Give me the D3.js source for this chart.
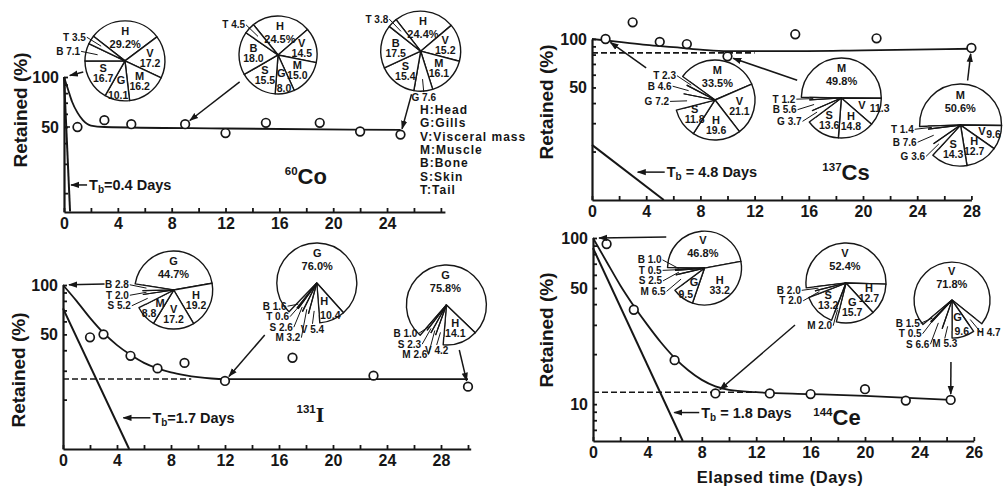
<!DOCTYPE html>
<html>
<head>
<meta charset="utf-8">
<script src="https://cdn.jsdelivr.net/npm/d3@7"></script>
<style>
  body { margin: 0; background: #fff; }
  svg { display: block; }
  text { font-family: "Liberation Sans", Arial, sans-serif; font-weight: bold; fill: #161616; }
</style>
</head>
<body>
<svg id="chart"></svg>
<script>
const width = 1003;
const height = 489;
const ink = '#161616';

// ---- 60Co ----
const coDays = [1, 3, 5, 9, 12, 15, 19, 22, 25];
const coRetained = [50, 55, 52, 52, 46, 53, 53, 47, 45];
const coCurve = [[0, 100], [0.3, 84], [0.6, 71], [1, 61], [1.4, 55], [2, 51], [3, 50], [12, 49], [25, 48]];
const coDashed = [[0, 50], [1, 50]];
const coTb = [[0, 100], [0.45, 15.5]];
const coPieA = [['H', 29.2], ['V', 17.2], ['M', 16.2], ['G', 10.1], ['S', 16.7], ['B', 7.1], ['T', 3.5]];
const coPieB = [['H', 24.5], ['V', 14.5], ['M', 15.0], ['G', 8.0], ['S', 15.5], ['B', 18.0], ['T', 4.5]];
const coPieC = [['H', 24.4], ['V', 15.2], ['M', 16.1], ['G', 7.6], ['S', 15.4], ['B', 17.5], ['T', 3.8]];

// ---- 137Cs ----
const csDays = [1, 3, 5, 7, 10, 15, 21, 28];
const csRetained = [100, 127, 96, 93, 78, 107, 101, 88];
const csCurve = [[0, 100], [2, 96], [4, 92], [6, 89], [8, 86], [10, 84], [14, 84], [20, 85], [28, 87]];
const csDashed = [[0, 82], [12, 82]];
const csTb = [[0, 22], [5.3, 10]];
const csPieA = [['M', 33.5], ['V', 21.1], ['H', 19.6], ['S', 11.8], ['G', 7.2], ['B', 4.6], ['T', 2.3]];
const csPieB = [['M', 49.8], ['V', 11.3], ['H', 14.8], ['S', 13.6], ['G', 3.7], ['B', 5.6], ['T', 1.2]];
const csPieC = [['M', 50.6], ['V', 9.6], ['H', 12.7], ['S', 14.3], ['G', 3.6], ['B', 7.6], ['T', 1.4]];

// ---- 131I ----
const iDays = [2, 3, 5, 7, 9, 12, 17, 23, 30];
const iRetained = [48, 50, 37, 31, 33.5, 26, 36, 28, 24];
const iCurve = [[0, 100], [1, 80], [2, 63], [3, 51], [4, 43], [5, 37.5], [6, 33.5], [7, 31], [8, 29.3], [9, 28.2], [10, 27.4], [11, 26.9], [12, 26.7], [30, 26.7]];
const iDashed = [[0, 26.7], [9.5, 26.7]];
const iTb = [[0, 72], [4.9, 10]];
const iPieA = [['G', 44.7], ['H', 19.2], ['V', 17.2], ['M', 8.8], ['S', 5.2], ['T', 2.0], ['B', 2.8]];
const iPieB = [['G', 76.0], ['H', 10.4], ['V', 5.4], ['M', 3.2], ['S', 2.6], ['T', 0.6], ['B', 1.6]];
const iPieC = [['G', 75.8], ['H', 14.1], ['V', 4.2], ['M', 2.6], ['S', 2.3], ['B', 1.0]];

// ---- 144Ce ----
const ceDays = [1, 3, 6, 9, 13, 16, 20, 23, 26.3];
const ceRetained = [92, 37, 18.4, 11.6, 11.6, 11.5, 12.3, 10.5, 10.6];
const ceCurve = [[0, 100], [1, 72], [2, 52], [3, 39], [4, 30], [5, 23.5], [6, 19], [7, 16], [8, 14], [9, 12.8], [10, 12.2], [12, 11.8], [16, 11.5], [20, 11.2], [26.3, 10.6]];
const ceDashed = [[0, 11.8], [12, 11.8]];
const ceTb = [[0, 87], [6.6, 6]];
const cePieA = [['V', 46.8], ['H', 33.2], ['G', 9.5], ['M', 6.5], ['S', 2.5], ['T', 0.5], ['B', 1.0]];
const cePieB = [['V', 52.4], ['H', 12.7], ['G', 15.7], ['M', 2.0], ['S', 13.2], ['T', 2.0], ['B', 2.0]];
const cePieC = [['V', 71.8], ['H', 4.7], ['G', 9.6], ['M', 5.3], ['S', 6.6], ['T', 0.5], ['B', 1.5]];

// tick labels
const xLabelDays24 = [0, 4, 8, 12, 16, 20, 24];
const xLabels24 = ['0', '4', '8', '12', '16', '20', '24'];
const xLabelDays28 = [0, 4, 8, 12, 16, 20, 24, 28];
const xLabels28 = ['0', '4', '8', '12', '16', '20', '24', '28'];
const ceXLabels = ['0', '4', '8', '12', '16', '20', '24', '26'];
const legendItems = ['H:Head', 'G:Gills', 'V:Visceral mass', 'M:Muscle', 'B:Bone', 'S:Skin', 'T:Tail'];

const panels = [
  { iso: ['60', 'Co'], isoAt: [16.4, 22.7], days: coDays, values: coRetained, curve: coCurve, dashed: coDashed,
    tb: coTb, tbText: '=0.4 Days', tbAt: [0.45, 22.4], tbLen: 17, open: false,
    xLabelDays: xLabelDays24, xLabels: xLabels24, yLabels: [50, 100],
    left: 64, dayPx: 13.46, xMax: 28.3, yMin: 15.4, top: 77, bottom: 212, titleX: 20, titleY: 110,
    pies: [
      { slices: coPieA, day: 4.53, pct: 125, r: 40, start: -52, arrow: { ang: -105, f: 1.08, to: [0, 100] } },
      { slices: coPieB, day: 15.9, pct: 135.7, r: 39, start: -39, arrow: { ang: -125, f: 1.2, to: [9, 52] } },
      { slices: coPieC, day: 26.5, pct: 143, r: 40, start: -38, arrow: { ang: -168, f: 1.1, to: [25, 45] } }
    ] },
  { iso: ['137', 'Cs'], isoAt: [17, 13.3], days: csDays, values: csRetained, curve: csCurve, dashed: csDashed,
    tb: csTb, tbText: ' = 4.8 Days', tbAt: [3.3, 14.9], tbLen: 28, open: true,
    xLabelDays: xLabelDays28, xLabels: xLabels28, yLabels: [10, 50, 100],
    left: 592, dayPx: 13.55, xMax: 28, yMin: 10, top: 39, bottom: 200, titleX: 546, titleY: 102,
    pies: [
      { slices: csPieA, day: 9.08, pct: 41.8, r: 40, start: -54, arrow: { ang: -65, f: 1.9, to: [1, 100] } },
      { slices: csPieB, day: 18.4, pct: 43, r: 40, start: -89, arrow: { ang: -68, f: 1.19, to: [10, 78] } },
      { slices: csPieC, day: 27.2, pct: 29.2, r: 41, start: -92, arrow: { ang: 9, f: 1.1, to: [28, 88] } }
    ] },
  { iso: ['131', 'I'], isoAt: [17.3, 14.6], days: iDays, values: iRetained, curve: iCurve, dashed: iDashed,
    tb: iTb, tbText: '=1.7 Days', tbAt: [4.4, 15.5], tbLen: 28, open: true,
    xLabelDays: xLabelDays28, xLabels: xLabels28, yLabels: [10, 50, 100],
    left: 63, dayPx: 13.5, xMax: 30.2, yMin: 10, top: 285, bottom: 449, titleX: 18, titleY: 370,
    pies: [
      { slices: iPieA, day: 8.2, pct: 93.2, r: 39, start: -81, arrow: { ang: -85, f: 1.78, to: [0, 100] } },
      { slices: iPieB, day: 18.8, pct: 102.8, r: 40, start: -136, arrow: { ang: -135, f: 1.84, to: [12, 26] } },
      { slices: iPieC, day: 28.4, pct: 75.5, r: 40, start: -139, arrow: { ang: 164, f: 1.17, to: [30, 24] } }
    ] },
  { iso: ['144', 'Ce'], isoAt: [16.2, 7.5], days: ceDays, values: ceRetained, curve: ceCurve, dashed: ceDashed,
    tb: ceTb, tbText: ' = 1.8 Days', tbAt: [5.9, 8.9], tbLen: 26, open: true,
    xLabelDays: xLabelDays28, xLabels: ceXLabels, yLabels: [10, 50, 100],
    left: 593, dayPx: 13.6, xMax: 28, yMin: 6, top: 238, bottom: 441, titleX: 546, titleY: 330,
    pies: [
      { slices: cePieA, day: 8.2, pct: 65.9, r: 37, start: -89, arrow: { ang: -51, f: 1.33, to: [0, 100] } },
      { slices: cePieB, day: 18.6, pct: 53.6, r: 40, start: -97, arrow: { ang: -129.5, f: 1.65, to: [9, 11.6] } },
      { slices: cePieC, day: 26.4, pct: 42.3, r: 38, start: -130, arrow: { ang: 181, f: 1.63, to: [26.3, 10.6] } }
    ] }
];

const svg = d3.select('#chart').attr('width', width).attr('height', height);
svg.append('rect').attr('width', width).attr('height', height).attr('fill', '#fff');

svg.append('defs').append('marker')
    .attr('id', 'arr')
    .attr('viewBox', '0 0 10 10')
    .attr('refX', 9).attr('refY', 5)
    .attr('markerWidth', 6).attr('markerHeight', 6)
    .attr('orient', 'auto')
  .append('path')
    .attr('d', 'M0,1.5L10,5L0,8.5Z')
    .attr('fill', ink);

const pt = (a, rr) => [Math.sin(a) * rr, -Math.cos(a) * rr];

// keep a text inside the picture
function clampRight(sel, cx) {
  const box = sel.node().getBBox();
  const over = cx + box.x + box.width - (width - 2);
  if (over > 0) sel.attr('x', +sel.attr('x') - over);
}

function drawPie(g, spec, open, x, y) {
  const cx = x(spec.day), cy = y(spec.pct), r = spec.r;
  const a0 = spec.start * Math.PI / 180;
  const arcs = d3.pie().sort(null).value(d => d[1])
      .startAngle(a0).endAngle(a0 + 2 * Math.PI)(spec.slices);
  const isOpen = d => open && d.data[1] < 8;
  const full = d3.arc().innerRadius(0).outerRadius(r);
  const short = d3.arc().innerRadius(0).outerRadius(r * 0.8);
  const pg = g.append('g').attr('transform', `translate(${cx},${cy})`);

  pg.selectAll('path.slice').data(arcs).join('path')
      .attr('class', 'slice')
      .attr('d', d => isOpen(d) ? short(d) : full(d))
      .attr('fill', '#fff')
      .attr('stroke', d => isOpen(d) ? 'none' : ink)
      .attr('stroke-width', 1.4)
      .attr('stroke-linejoin', 'round');

  // open (small) slices: only radial lines
  arcs.filter(isOpen).forEach(d => {
    [d.startAngle, d.endAngle].forEach(a => {
      const [px, py] = pt(a, r * 0.8);
      pg.append('line').attr('x1', 0).attr('y1', 0).attr('x2', px).attr('y2', py)
        .attr('stroke', ink).attr('stroke-width', 1.2);
    });
  });

  // inside labels
  arcs.filter(d => d.data[1] >= 8).forEach(d => {
    const mid = (d.startAngle + d.endAngle) / 2;
    const span = (d.endAngle - d.startAngle) * 180 / Math.PI;
    const top = d.index === 0;
    if (!top && span < 45 && Math.abs(Math.cos(mid)) < 0.5) {
      // narrow slice lying sideways: letter inside, value across the rim
      const right = Math.sin(mid) > 0;
      const [ax, ay] = pt(mid, r * 0.55);
      const [bx, by] = pt(mid, r * 0.76);
      pg.append('text').attr('x', ax).attr('y', ay + 3.5)
        .attr('text-anchor', 'middle').attr('font-size', 11).text(d.data[0]);
      const v = pg.append('text').attr('x', bx).attr('y', by + 3.5)
        .attr('text-anchor', right ? 'start' : 'end').attr('font-size', 10.5)
        .text(d.data[1].toFixed(1));
      clampRight(v, cx);
      return;
    }
    if (!top && span < 40) {
      // narrow slice pointing up or down: letter inside, value near the rim
      const [ax, ay] = pt(mid, r * 0.48);
      const [bx, by] = pt(mid, r * 0.86);
      pg.append('text').attr('x', ax).attr('y', ay + 4)
        .attr('text-anchor', 'middle').attr('font-size', 11).text(d.data[0]);
      pg.append('text').attr('x', bx).attr('y', by + 4)
        .attr('text-anchor', 'middle').attr('font-size', 10.5).text(d.data[1].toFixed(1));
      return;
    }
    const [lx, ly] = pt(mid, r * (top ? 0.55 : 0.63));
    pg.append('text').attr('x', lx).attr('y', ly + (top ? -4 : -1.5))
      .attr('text-anchor', 'middle').attr('font-size', 11).text(d.data[0]);
    pg.append('text').attr('x', lx).attr('y', ly + (top ? 9 : 8.5))
      .attr('text-anchor', 'middle').attr('font-size', top ? 11 : 10.5)
      .text(d.data[1].toFixed(1) + (top ? '%' : ''));
  });

  // outside labels for small slices
  const outs = arcs.filter(d => d.data[1] < 8).map(d => {
    const mid = (d.startAngle + d.endAngle) / 2;
    const s = Math.sin(mid);
    const [lx, ly] = pt(mid, r + 6);
    return { d, mid, lx, ly: ly + 4, anchor: s < -0.25 ? 'end' : s > 0.25 ? 'start' : 'middle' };
  });
  ['end', 'start', 'middle'].forEach(an => {
    const grp = outs.filter(o => o.anchor === an).sort((a, b) => a.ly - b.ly);
    if (grp.length < 2) return;
    const before = d3.mean(grp, o => o.ly);
    for (let i = 1; i < grp.length; i++) {
      if (grp[i].ly - grp[i - 1].ly < 10.5) grp[i].ly = grp[i - 1].ly + 10.5;
    }
    const shift = d3.mean(grp, o => o.ly) - before;
    grp.forEach(o => { o.ly -= shift; });
  });
  outs.forEach(o => {
    const [sx, sy] = pt(o.mid, r * 0.7);
    const ex = o.anchor === 'end' ? o.lx + 1 : o.anchor === 'start' ? o.lx - 1 : o.lx;
    const ey = o.anchor === 'middle' ? o.ly - 9 : o.ly - 3.5;
    pg.append('line').attr('x1', sx).attr('y1', sy).attr('x2', ex).attr('y2', ey)
      .attr('stroke', ink).attr('stroke-width', 1);
    const t = pg.append('text').attr('x', o.lx).attr('y', o.ly)
      .attr('text-anchor', o.anchor).attr('font-size', 10)
      .text(`${o.d.data[0]} ${o.d.data[1].toFixed(1)}`);
    clampRight(t, cx);
  });

  // arrow from the pie towards its data point
  const a = spec.arrow;
  const ang = a.ang * Math.PI / 180;
  const [ox, oy] = pt(ang, a.f * r);
  const sx = cx + ox, sy = cy + oy;
  let tx = x(a.to[0]), ty = y(a.to[1]);
  const len = Math.hypot(tx - sx, ty - sy);
  tx -= (tx - sx) / len * 6;
  ty -= (ty - sy) / len * 6;
  g.append('line').attr('x1', sx).attr('y1', sy).attr('x2', tx).attr('y2', ty)
    .attr('stroke', ink).attr('stroke-width', 1.5).attr('marker-end', 'url(#arr)');
}

function drawPanel(p) {
  const x = d3.scaleLinear().domain([0, p.xMax]).range([p.left, p.left + p.xMax * p.dayPx]);
  const y = d3.scaleLog().domain([p.yMin, 100]).range([p.bottom, p.top]);
  const g = svg.append('g');

  // x axis
  const xAxis = d3.axisBottom(x)
      .tickValues(d3.range(0, p.xMax + 0.01, 2))
      .tickSize(-4).tickSizeOuter(0).tickPadding(6)
      .tickFormat(d => {
        const i = p.xLabelDays.indexOf(d);
        return i < 0 ? '' : p.xLabels[i];
      });
  const gx = g.append('g').attr('transform', `translate(0,${p.bottom})`).call(xAxis)
      .attr('font-family', null).attr('font-size', null);
  gx.select('.domain').attr('stroke', ink).attr('stroke-width', 2.2);
  gx.selectAll('line').attr('stroke', ink).attr('stroke-width', 1.8);
  gx.selectAll('text').attr('font-size', 16).attr('fill', ink);

  // y axis (log)
  const yTicks = [7, 8, 9, 10, 20, 30, 40, 50, 60, 70, 80, 90, 100].filter(v => v >= p.yMin * 1.05);
  const yAxis = d3.axisLeft(y)
      .tickValues(yTicks)
      .tickSize(-4).tickSizeOuter(0).tickPadding(5)
      .tickFormat(d => p.yLabels.includes(d) ? d : '');
  const gy = g.append('g').attr('transform', `translate(${p.left},0)`).call(yAxis)
      .attr('font-family', null).attr('font-size', null);
  gy.select('.domain').attr('stroke', ink).attr('stroke-width', 2.2);
  gy.selectAll('line').attr('stroke', ink).attr('stroke-width', 1.8);
  gy.selectAll('text').attr('font-size', 16).attr('fill', ink);

  g.append('text')
      .attr('transform', `translate(${p.titleX},${p.titleY}) rotate(-90)`)
      .attr('text-anchor', 'middle').attr('dominant-baseline', 'central')
      .attr('font-size', 19)
      .text('Retained (%)');

  const line = d3.line().x(d => x(d[0])).y(d => y(d[1]));

  // lines
  g.append('path').attr('d', line.curve(d3.curveMonotoneX)(p.curve))
    .attr('fill', 'none').attr('stroke', ink).attr('stroke-width', 1.8);
  g.append('path').attr('d', line.curve(d3.curveLinear)(p.dashed))
    .attr('fill', 'none').attr('stroke', ink).attr('stroke-width', 1.6).attr('stroke-dasharray', '6,3');
  g.append('path').attr('d', line.curve(d3.curveLinear)(p.tb))
    .attr('fill', 'none').attr('stroke', ink).attr('stroke-width', 2);

  // points
  g.selectAll('circle.pt').data(p.days.map((d, i) => [d, p.values[i]])).join('circle')
      .attr('class', 'pt')
      .attr('cx', d => x(d[0])).attr('cy', d => y(d[1])).attr('r', 4.3)
      .attr('fill', '#fff').attr('stroke', ink).attr('stroke-width', 1.7);

  // Tb label with arrow
  const tx = x(p.tbAt[0]), ty = y(p.tbAt[1]);
  g.append('line').attr('x1', tx + p.tbLen).attr('y1', ty).attr('x2', tx + 1).attr('y2', ty)
    .attr('stroke', ink).attr('stroke-width', 1.5).attr('marker-end', 'url(#arr)');
  const tt = g.append('text').attr('x', tx + p.tbLen + 2).attr('y', ty + 5).attr('font-size', 14.5);
  tt.append('tspan').text('T');
  tt.append('tspan').attr('font-size', 10).attr('dy', 3).text('b');
  tt.append('tspan').attr('dy', -3).text(p.tbText);

  // isotope label
  const it = g.append('text').attr('x', x(p.isoAt[0])).attr('y', y(p.isoAt[1]));
  it.append('tspan').attr('font-size', 11.5).attr('dy', -9).text(p.iso[0]);
  it.append('tspan').attr('font-size', 22).attr('dy', 9)
    .attr('font-family', p.iso[1] === 'I' ? '"Liberation Serif", serif' : null)
    .text(p.iso[1]);

  p.pies.forEach(spec => drawPie(g, spec, p.open, x, y));
  return { x, y };
}

const scales = panels.map(drawPanel);

// legend of tissue codes (first panel)
const lx = scales[0].x(26.45), ly = scales[0].y(60);
svg.append('g').selectAll('text').data(legendItems).join('text')
    .attr('x', lx).attr('y', (d, i) => ly + i * 13.4)
    .attr('font-size', 12).attr('letter-spacing', 1)
    .text(d => d);

// x axis title (last panel)
svg.append('text')
    .attr('x', scales[3].x(13.75)).attr('y', 483)
    .attr('text-anchor', 'middle').attr('font-size', 16.5).attr('letter-spacing', 0.5)
    .text('Elapsed time (Days)');
</script>
</body>
</html>
